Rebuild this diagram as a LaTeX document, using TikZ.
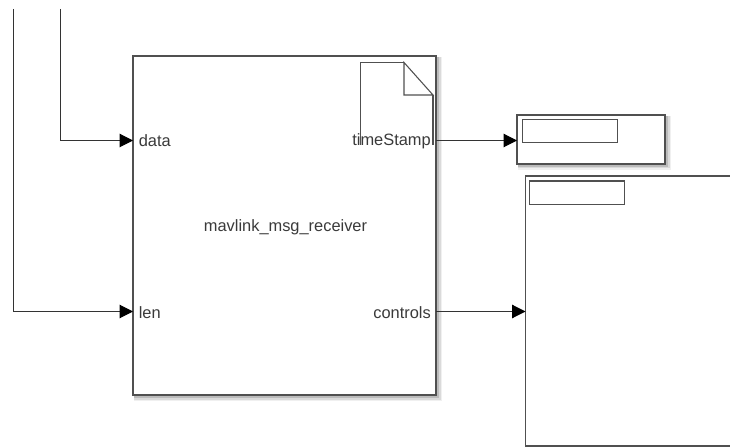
\documentclass[tikz,border=0pt]{standalone}
\usepackage{fontspec}
\setmainfont{Liberation Sans}
\usetikzlibrary{arrows.meta}
\definecolor{blk}{HTML}{505050}
\definecolor{txt}{HTML}{3A3A3A}
\tikzset{
  x=0.75pt,y=-0.75pt,
  blockbox/.style={draw=blk,line width=1.05pt,fill=white,inner sep=0pt,outer sep=0pt,anchor=north west},
  innerbox/.style={draw=blk,line width=0.8pt,fill=white,inner sep=0pt,outer sep=0pt,anchor=north west,minimum width=71pt,minimum height=17.5pt},
  wire/.style={draw=black!80,line width=0.8pt,-{Triangle[length=10pt,width=10pt,color=black]}},
  lbl/.style={font=\fontsize{12.3pt}{14pt}\selectfont,text=txt,inner sep=0pt},
  icon/.style={draw=blk,line width=0.8pt,line join=miter}
}
\newcommand{\softshadow}[4]{%
  \fill[black,opacity=0.06] (#1+1,#2+1) rectangle (#3+6,#4+6);
  \fill[black,opacity=0.09] (#1+1,#2+1) rectangle (#3+4.5,#4+4.5);
  \fill[black,opacity=0.14] (#1+1,#2+1) rectangle (#3+3,#4+3);
}
\begin{document}
\begin{tikzpicture}
\useasboundingbox (0,0) rectangle (730,448);
\softshadow{133}{56}{436}{395}
\softshadow{517}{115}{665}{164}
\node[blockbox,minimum width=227.25pt,minimum height=254.25pt] (main) at (133,56) {};
\node[blockbox,minimum width=111pt,minimum height=36.75pt] (small) at (517,115) {};
\node[innerbox] (smallin) at (522.5,119.5) {};
\path[fill=white] (525.5,176) rectangle (730,446);
\draw[blk,line width=1.05pt] (730,176) -- (525.5,176) -- (525.5,446) -- (730,446);
\node[innerbox] (bigin) at (529.5,181) {};
\coordinate (bigport) at (525.5,311.5);
% document icon
\draw[icon] (404,62.5) -- (360.5,62.5) -- (360.5,145);
\draw[icon] (404,62.5) -- (404,95) -- (433,95) -- cycle;
\draw[icon] (433,95) -- (433,145);
% labels
\node[lbl,anchor=west] (ldata) at (138.5,141) {data};
\node[lbl,anchor=west] (llen) at (138.5,312.5) {len};
\node[lbl,anchor=east] (lts) at (431,141.5) {timeStamp};
\node[lbl,anchor=east] (lctl) at (431,312.5) {controls};
\node[lbl] (lname) at (285.5,227.5) {mavlink\_msg\_receiver};
% wires
\coordinate (dataport) at (main.west |- 0,140.5);
\coordinate (lenport) at (main.west |- 0,311.5);
\coordinate (tsport) at (main.east |- 0,140.5);
\coordinate (ctlport) at (main.east |- 0,311.5);
\coordinate (smallport) at (small.west |- 0,140.5);
\coordinate (datatop) at (60.5,9);
\coordinate (lentop) at (13.5,9);
\draw[wire] (datatop) |- (dataport);
\draw[wire] (lentop) |- (lenport);
\draw[wire] (tsport) -- (smallport);
\draw[wire] (ctlport) -- (bigport);
\end{tikzpicture}
\end{document}
